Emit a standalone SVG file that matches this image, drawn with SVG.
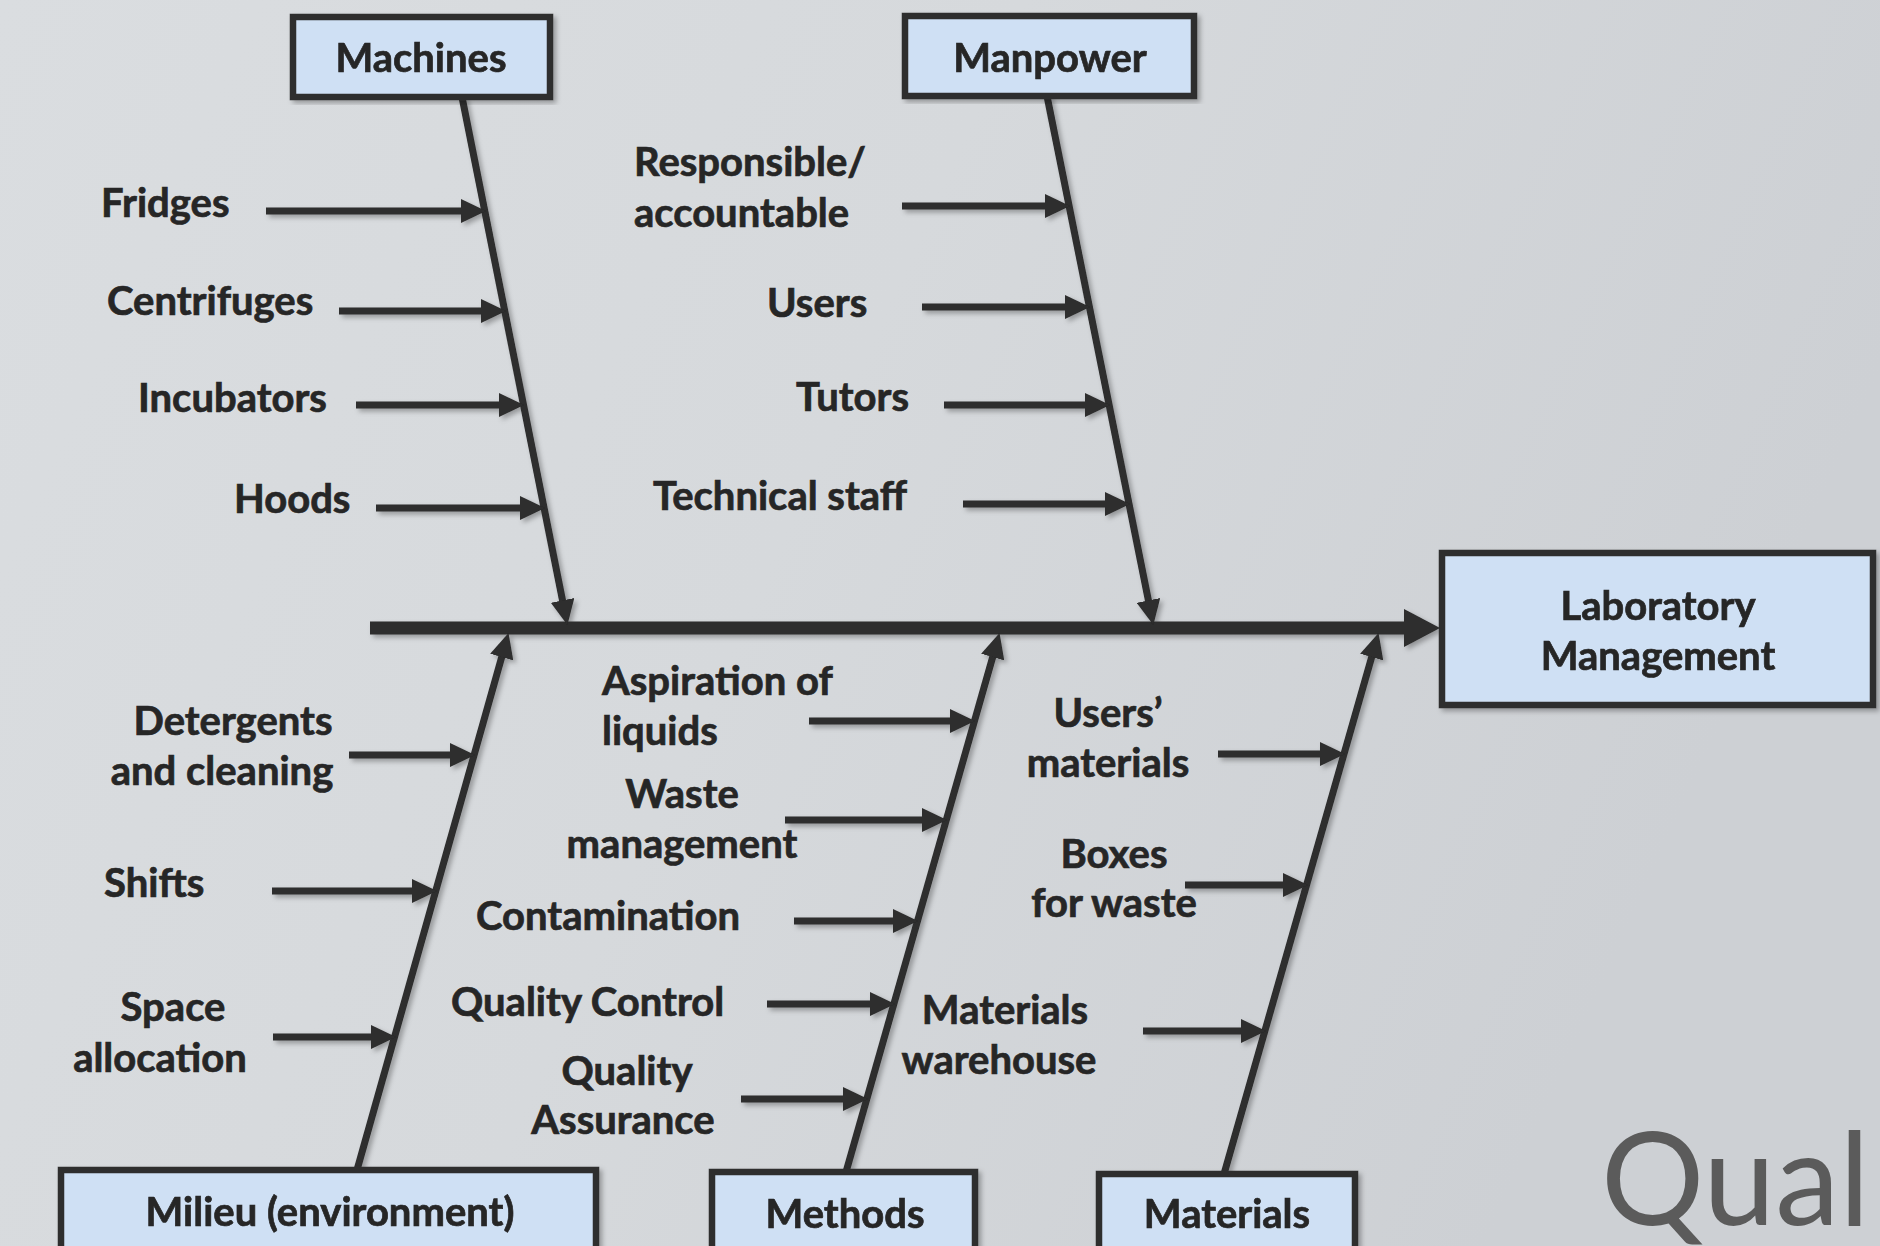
<svg xmlns="http://www.w3.org/2000/svg" width="1880" height="1246" viewBox="0 0 1880 1246">
<defs>
<linearGradient id="bg" x1="0" y1="0" x2="1" y2="0.3">
<stop offset="0" stop-color="#dadde0"/>
<stop offset="0.5" stop-color="#d6d9dc"/>
<stop offset="1" stop-color="#cdd0d4"/>
</linearGradient>
<filter id="sh" x="-10%" y="-10%" width="120%" height="120%">
<feDropShadow dx="3" dy="3" stdDeviation="2.5" flood-color="#000" flood-opacity="0.3"/>
</filter>
<marker id="ah" markerUnits="userSpaceOnUse" markerWidth="25" markerHeight="24" refX="11" refY="12" orient="auto">
<path d="M0,0 L25,12 L0,24 z" fill="#2d2d2d"/>
</marker>
<marker id="ahBig" markerUnits="userSpaceOnUse" markerWidth="36" markerHeight="38" refX="6" refY="19" orient="auto">
<path d="M0,0 L36,19 L0,38 z" fill="#2d2d2d"/>
</marker>
</defs>
<style>
.box{fill:#cfe0f4;stroke:#2d2d2d;stroke-width:6.5}
.t{font-family:Lato,"Open Sans","Liberation Sans",sans-serif;font-weight:bold;font-size:40px;fill:#262626;stroke:#262626;stroke-width:0.7}
.c{text-anchor:middle}
.bone{stroke:#2d2d2d;stroke-width:7;fill:none}
.sub{stroke:#2d2d2d;stroke-width:7;fill:none;marker-end:url(#ah)}
</style>
<rect width="1880" height="1246" fill="url(#bg)"/>
<text x="1601" y="1225" font-family="Lato,'Open Sans','Liberation Sans',sans-serif" font-size="129" fill="#5b5b5b">Qual</text>

<g id="connectors" filter="url(#sh)">
<line x1="370" y1="628" x2="1410" y2="628" stroke="#2d2d2d" stroke-width="13" marker-end="url(#ahBig)"/>
<line class="bone" x1="462" y1="97" x2="564.7" y2="611.2" marker-end="url(#ah)"/>
<line class="bone" x1="1047" y1="96" x2="1150.6" y2="611.2" marker-end="url(#ah)"/>
<line class="bone" x1="357" y1="1170" x2="504.7" y2="646.5" marker-end="url(#ah)"/>
<line class="bone" x1="846" y1="1172" x2="995.7" y2="646.5" marker-end="url(#ah)"/>
<line class="bone" x1="1224" y1="1174" x2="1374.7" y2="646.5" marker-end="url(#ah)"/>
<!-- machines -->
<line class="sub" x1="266" y1="211" x2="472" y2="211"/>
<line class="sub" x1="339" y1="311" x2="492" y2="311"/>
<line class="sub" x1="356" y1="405" x2="510" y2="405"/>
<line class="sub" x1="376" y1="508" x2="531" y2="508"/>
<!-- manpower -->
<line class="sub" x1="902" y1="206" x2="1056" y2="206"/>
<line class="sub" x1="922" y1="307" x2="1076" y2="307"/>
<line class="sub" x1="944" y1="405" x2="1096" y2="405"/>
<line class="sub" x1="963" y1="504" x2="1116" y2="504"/>
<!-- milieu -->
<line class="sub" x1="349" y1="755" x2="461" y2="755"/>
<line class="sub" x1="272" y1="891" x2="423" y2="891"/>
<line class="sub" x1="273" y1="1037" x2="382" y2="1037"/>
<!-- methods -->
<line class="sub" x1="809" y1="721" x2="961" y2="721"/>
<line class="sub" x1="785" y1="820" x2="933" y2="820"/>
<line class="sub" x1="794" y1="921" x2="904" y2="921"/>
<line class="sub" x1="767" y1="1004" x2="881" y2="1004"/>
<line class="sub" x1="741" y1="1099" x2="854" y2="1099"/>
<!-- materials -->
<line class="sub" x1="1218" y1="754" x2="1331" y2="754"/>
<line class="sub" x1="1185" y1="885" x2="1294" y2="885"/>
<line class="sub" x1="1143" y1="1031" x2="1252" y2="1031"/>
</g>

<g id="machines" filter="url(#sh)"><rect class="box" x="293" y="17" width="257" height="80"/><text class="t c" x="421" y="72">Machines</text></g>
<g id="manpower" filter="url(#sh)"><rect class="box" x="905" y="16" width="289" height="80"/><text class="t c" x="1050" y="72">Manpower</text></g>
<g id="laboratory-management" filter="url(#sh)"><rect class="box" x="1442" y="553" width="431" height="152"/><text class="t c" x="1658" y="620">Laboratory</text><text class="t c" x="1658" y="670">Management</text></g>
<g id="milieu" filter="url(#sh)"><rect class="box" x="61" y="1170" width="535" height="100"/><text class="t c" x="330" y="1226">Milieu (environment)</text></g>
<g id="methods" filter="url(#sh)"><rect class="box" x="712" y="1172" width="263" height="100"/><text class="t c" x="845" y="1228">Methods</text></g>
<g id="materials" filter="url(#sh)"><rect class="box" x="1099" y="1174" width="256" height="100"/><text class="t c" x="1227" y="1228">Materials</text></g>

<g id="fridges"><text class="t" x="101" y="217">Fridges</text></g>
<g id="centrifuges"><text class="t" x="107" y="315">Centrifuges</text></g>
<g id="incubators"><text class="t" x="138" y="412">Incubators</text></g>
<g id="hoods"><text class="t" x="234" y="513">Hoods</text></g>

<g id="responsible"><text class="t" x="634" y="176">Responsible/</text><text class="t" x="634" y="227">accountable</text></g>
<g id="users"><text class="t" x="767" y="317">Users</text></g>
<g id="tutors"><text class="t" x="796" y="411">Tutors</text></g>
<g id="technical-staff"><text class="t" x="653" y="510">Technical staff</text></g>

<g id="detergents"><text class="t c" x="233" y="735">Detergents</text><text class="t c" x="222" y="785">and cleaning</text></g>
<g id="shifts"><text class="t" x="104" y="897">Shifts</text></g>
<g id="space"><text class="t c" x="173" y="1021">Space</text><text class="t c" x="160" y="1072">allocation</text></g>

<g id="aspiration"><text class="t" x="602" y="695">Aspiration of</text><text class="t" x="602" y="745">liquids</text></g>
<g id="waste"><text class="t c" x="682" y="808">Waste</text><text class="t c" x="682" y="858">management</text></g>
<g id="contamination"><text class="t" x="476" y="930">Contamination</text></g>
<g id="quality-control"><text class="t" x="451" y="1016">Quality Control</text></g>
<g id="quality-assurance"><text class="t c" x="627" y="1085">Quality</text><text class="t c" x="623" y="1134">Assurance</text></g>

<g id="users-materials"><text class="t c" x="1108" y="727">Users’</text><text class="t c" x="1108" y="777">materials</text></g>
<g id="boxes"><text class="t c" x="1114" y="868">Boxes</text><text class="t c" x="1114" y="917">for waste</text></g>
<g id="warehouse"><text class="t c" x="1005" y="1024">Materials</text><text class="t c" x="999" y="1074">warehouse</text></g>
</svg>
